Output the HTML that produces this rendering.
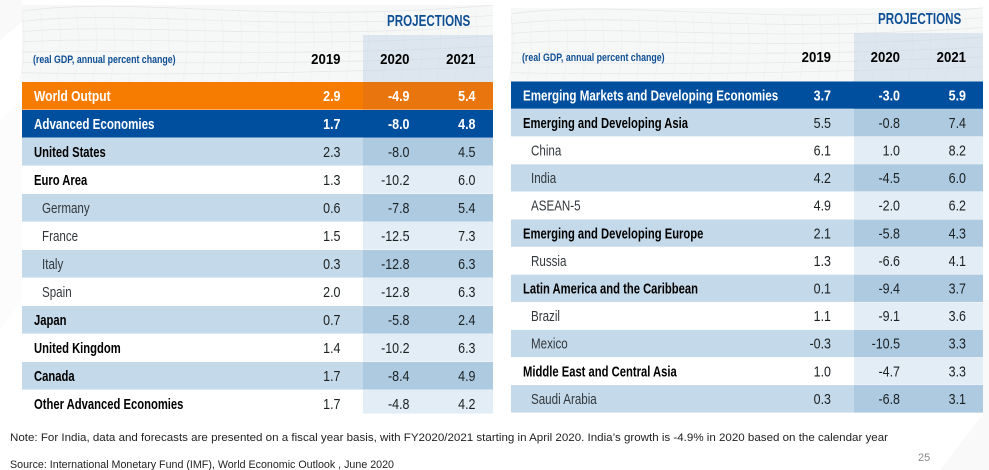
<!DOCTYPE html>
<html lang="en">
<head>
<meta charset="utf-8">
<title>World Economic Outlook projections</title>
<style>
html,body{margin:0;padding:0;background:#fff;width:989px;height:470px;overflow:hidden}
svg{display:block;font-family:"Liberation Sans",sans-serif}
</style>
</head>
<body>
<svg id="chart" width="989" height="470" viewBox="0 0 989 470" xmlns="http://www.w3.org/2000/svg">
  <defs>
    <filter id="soft" x="-5%" y="-5%" width="110%" height="110%"><feGaussianBlur stdDeviation="0.3"/></filter>
  </defs>
  <g>
    <polygon points="0,0 22,0 22,22 0,40" fill="#f9f9f9"/>
    <polygon points="0,120 22,100 22,300 0,330" fill="#fcfcfc"/>
    <polygon points="989,300 983,300 983,414 940,470 989,470" fill="#f9f9f9"/>
  </g>
  <g id="left-table" filter="url(#soft)"></g>
  <g id="right-table" filter="url(#soft)"></g>
  <text x="10" y="441" font-size="11" fill="#222" textLength="878" lengthAdjust="spacingAndGlyphs">Note: For India, data and forecasts are presented on a fiscal year basis, with FY2020/2021 starting in April 2020. India’s growth is -4.9% in 2020 based on the calendar year</text>
  <text x="10" y="468" font-size="11" fill="#222" textLength="384" lengthAdjust="spacingAndGlyphs">Source: International Monetary Fund (IMF), World Economic Outlook , June 2020</text>
  <text x="918" y="461" font-size="11" fill="#8a8a8a">25</text>
</svg>
<script>
var years = ['2019', '2020', '2021'];

var leftCountries = ['World Output', 'Advanced Economies', 'United States', 'Euro Area', 'Germany', 'France', 'Italy', 'Spain', 'Japan', 'United Kingdom', 'Canada', 'Other Advanced Economies'];
var leftValues2019 = ['2.9', '1.7', '2.3', '1.3', '0.6', '1.5', '0.3', '2.0', '0.7', '1.4', '1.7', '1.7'];
var leftValues2020 = ['-4.9', '-8.0', '-8.0', '-10.2', '-7.8', '-12.5', '-12.8', '-12.8', '-5.8', '-10.2', '-8.4', '-4.8'];
var leftValues2021 = ['5.4', '4.8', '4.5', '6.0', '5.4', '7.3', '6.3', '6.3', '2.4', '6.3', '4.9', '4.2'];
var leftKinds = ['world', 'head', 'group', 'group', 'sub', 'sub', 'sub', 'sub', 'group', 'group', 'group', 'group'];

var rightCountries = ['Emerging Markets and Developing Economies', 'Emerging and Developing Asia', 'China', 'India', 'ASEAN-5', 'Emerging and Developing Europe', 'Russia', 'Latin America and the Caribbean', 'Brazil', 'Mexico', 'Middle East and Central Asia', 'Saudi Arabia'];
var rightValues2019 = ['3.7', '5.5', '6.1', '4.2', '4.9', '2.1', '1.3', '0.1', '1.1', '-0.3', '1.0', '0.3'];
var rightValues2020 = ['-3.0', '-0.8', '1.0', '-4.5', '-2.0', '-5.8', '-6.6', '-9.4', '-9.1', '-10.5', '-4.7', '-6.8'];
var rightValues2021 = ['5.9', '7.4', '8.2', '6.0', '6.2', '4.3', '4.1', '3.7', '3.6', '3.3', '3.3', '3.1'];
var rightKinds = ['head', 'group', 'sub', 'sub', 'sub', 'group', 'sub', 'group', 'sub', 'sub', 'group', 'sub'];

var SVGNS = 'http://www.w3.org/2000/svg';

function make(parent, tag, attrs) {
  var el = document.createElementNS(SVGNS, tag);
  for (var k in attrs) { el.setAttribute(k, attrs[k]); }
  parent.appendChild(el);
  return el;
}

function label(parent, str, x, y, size, weight, fill, sx, anchor) {
  var el = make(parent, 'text', {
    transform: 'translate(' + x + ' ' + y + ') scale(' + sx + ' 1)',
    'font-size': size, 'font-weight': weight, fill: fill, 'text-anchor': anchor
  });
  el.textContent = str;
  return el;
}

function slug(s) {
  return s.toLowerCase().replace(/[^a-z0-9]+/g, '-');
}

function drawMesh(g, x0, y0, w, h) {
  var i, d;
  for (i = 0; i < 7; i++) {
    var y = y0 + h * (i + 0.6) / 7.5;
    d = 'M' + x0 + ' ' + y + ' C' + (x0 + w * 0.25) + ' ' + (y - 16 + i * 3) + ' ' + (x0 + w * 0.5) + ' ' + (y + 14 - i * 2) + ' ' + (x0 + w) + ' ' + (y - 6);
    var mesh = make(g, 'path', { d: d, fill: 'none', stroke: '#e4e6e8', 'stroke-width': 0.7 });
    
    
  }
  for (i = 0; i < 26; i++) {
    var x = x0 + w * i / 26;
    d = 'M' + x + ' ' + (y0 + 8) + ' Q' + (x + 5) + ' ' + (y0 + h / 2) + ' ' + (x - 2) + ' ' + (y0 + h);
    var mesh2 = make(g, 'path', { d: d, fill: 'none', stroke: '#eceef0', 'stroke-width': 0.6 });
    
    
  }
}

function labelScale(kind) {
  if (kind === 'world') { return 0.83; }
  if (kind === 'head') { return 0.8; }
  if (kind === 'sub') { return 0.8; }
  return 0.775;
}

function drawTable(g, cfg) {
  var header = make(g, 'rect', { x: cfg.x, y: cfg.headTop, width: cfg.w, height: cfg.rowTop - cfg.headTop, fill: '#f6f7f7' });
  
  
  drawMesh(g, cfg.x, cfg.headTop, cfg.w, cfg.rowTop - cfg.headTop);

  var headShade = make(g, 'rect', { x: cfg.shadeX, y: cfg.shadeTop, width: cfg.x + cfg.w - cfg.shadeX, height: cfg.rowTop - cfg.shadeTop, fill: '#b9d0e2', 'fill-opacity': 0.42 });
  
  

  var proj = label(g, 'PROJECTIONS', cfg.shadeX + 24, cfg.projY, 15.5, 'bold', '#104f94', 0.75, 'start');
  
  

  var unit = label(g, '(real GDP, annual percent change)', cfg.x + 11, cfg.unitY, 11, 'bold', '#104f94', 0.8, 'start');
  
  

  years.forEach(function (yr, c) {
    var t = label(g, yr, cfg.colX[c], cfg.unitY + 1, 15, 'bold', '#000000', 0.88, 'end');
    
    
  });

  cfg.names.forEach(function (name, i) {
    var top = cfg.rowTop + cfg.step * i;
    var kind = cfg.kinds[i];
    var isLight = cfg.lightRow(i);
    var base = kind === 'world' ? '#f57c04' : kind === 'head' ? '#05509f' : isLight ? '#c4d9e9' : '#ffffff';
    var shade = kind === 'world' ? '#e8750a' : kind === 'head' ? '#05509f' : isLight ? '#adcae0' : '#e3edf5';
    var rowH = i === cfg.names.length - 1 ? cfg.bottom - top : cfg.step;

    var row = make(g, 'g', {});
    
    

    make(row, 'rect', { x: cfg.x, y: top, width: cfg.w, height: rowH - 0.4, fill: base });
    make(row, 'rect', { x: cfg.shadeX, y: top, width: cfg.x + cfg.w - cfg.shadeX, height: rowH - 0.4, fill: shade });

    var colored = kind === 'world' || kind === 'head';
    var textFill = colored ? '#ffffff' : kind === 'sub' ? '#33383c' : '#000000';
    var baseline = top + cfg.step / 2 + 5;
    var labelX = kind === 'sub' ? cfg.x + 20 : cfg.x + 12;
    var weight = kind === 'sub' ? 'normal' : 'bold';

    var nameText = label(row, name, labelX, baseline, 14.5, weight, textFill, labelScale(kind), 'start');
    
    

    [cfg.v2019, cfg.v2020, cfg.v2021].forEach(function (series, c) {
      var valFill = colored ? '#ffffff' : '#1c2024';
      var valWeight = colored ? 'bold' : 'normal';
      var v = label(row, series[i], cfg.colX[c], baseline, 14.5, valWeight, valFill, 0.86, 'end');
      
      
    });
  });
}

drawTable(document.getElementById('left-table'), {
  x: 22, w: 471, headTop: 5, rowTop: 82, step: 28, bottom: 414,
  shadeX: 363, shadeTop: 35, projY: 26, unitY: 63,
  colX: [340.5, 409.5, 475.5],
  names: leftCountries, v2019: leftValues2019, v2020: leftValues2020, v2021: leftValues2021, kinds: leftKinds,
  lightRow: function (i) { return i % 2 === 0; }
});

drawTable(document.getElementById('right-table'), {
  x: 511, w: 472, headTop: 8, rowTop: 81.5, step: 27.6, bottom: 413,
  shadeX: 854, shadeTop: 33, projY: 24, unitY: 61,
  colX: [831, 900, 966],
  names: rightCountries, v2019: rightValues2019, v2020: rightValues2020, v2021: rightValues2021, kinds: rightKinds,
  lightRow: function (i) { return i % 2 === 1; }
});
</script>
</body>
</html>
